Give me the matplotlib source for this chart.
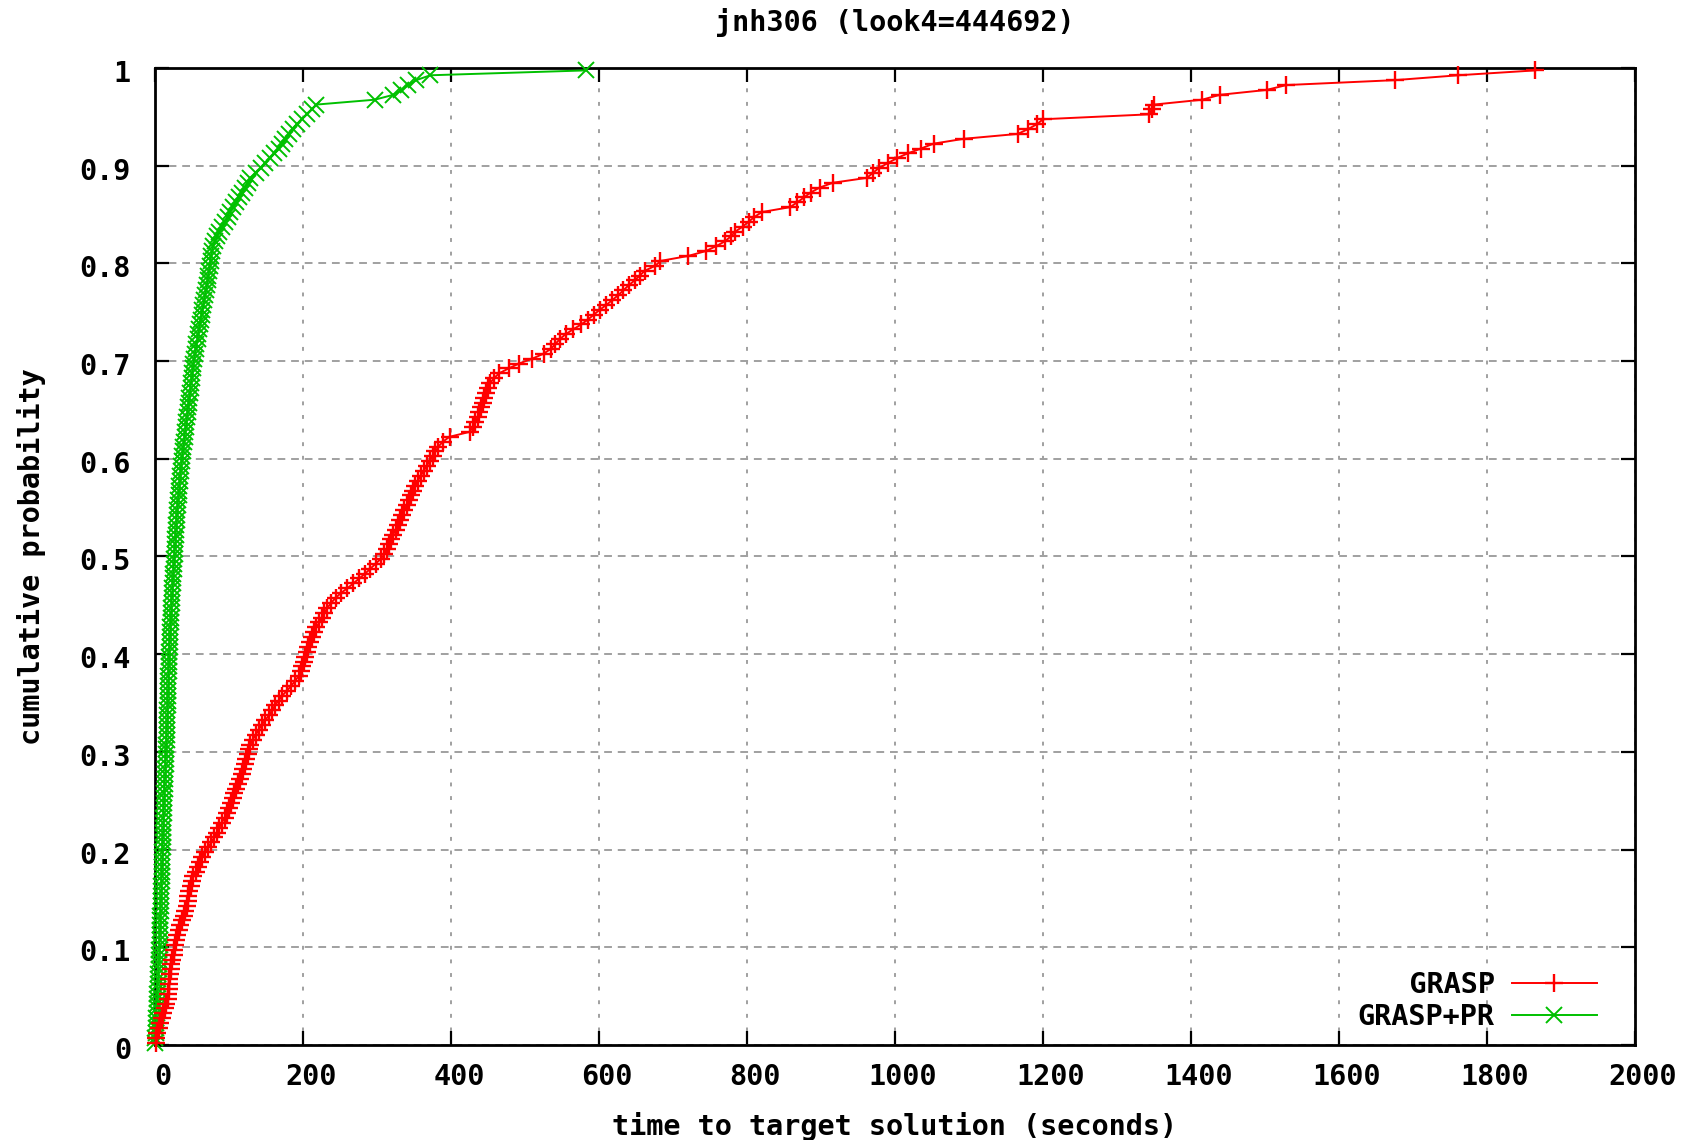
import matplotlib
matplotlib.use("Agg")
import matplotlib.pyplot as plt
from matplotlib.transforms import ScaledTranslation
import numpy as np

# ---------------- data (sorted times to target, seconds) ----------------
grasp_times = [
    1, 2, 3, 5, 7, 9, 11, 13, 15, 17,
    18, 18.5, 19, 19.5, 20, 21, 22, 23, 25, 26,
    27.5, 29, 30, 32, 34, 36, 39, 41, 43, 44,
    45, 46, 48, 50, 52, 55, 58, 61, 64, 67,
    72, 76, 80, 84, 87, 90, 94, 97, 100, 103,
    105, 107, 109, 112, 115, 117, 119, 121, 123, 125,
    127, 129, 132, 136, 140, 144, 149, 154, 158, 162,
    167, 172, 178, 184, 189, 194, 197, 199, 201, 203,
    205, 207, 209, 212, 215, 218, 222, 225, 229, 233,
    238, 244, 251, 260, 268, 276, 284, 291, 298, 305,
    310, 313, 316, 319, 322, 325, 328, 331, 334, 337,
    340, 343, 346, 349, 352, 355, 359, 363, 367, 371,
    375, 379, 383, 389, 398, 425, 430, 433, 436, 438,
    440, 443, 445, 447, 450, 453, 458, 465, 478, 492,
    510, 525, 535, 541, 547, 555, 565, 576, 585, 593,
    601, 610, 618, 626, 633, 640, 648, 655, 662, 676,
    683, 720, 744, 758, 770, 778, 784, 794, 802, 810,
    820, 858, 868, 877, 886, 898, 916, 962, 970, 978,
    990, 1002, 1017, 1035, 1052, 1093, 1166, 1180, 1192, 1200,
    1343, 1347, 1350, 1415, 1439, 1502, 1529, 1675, 1761, 1865,
]

grasp_pr_times = [
    0.3, 0.6, 0.9, 1.2, 1.5, 1.8, 2.1, 2.4, 2.7, 3.0,
    3.3, 3.6, 3.9, 4.2, 4.5, 4.8, 5.1, 5.4, 5.7, 6.0,
    6.2, 6.4, 6.6, 6.8, 7.0, 7.2, 7.4, 7.6, 7.8, 8.0,
    8.2, 8.4, 8.6, 8.8, 9.0, 9.2, 9.4, 9.6, 9.8, 10.0,
    10.2, 10.4, 10.6, 10.8, 11.0, 11.2, 11.4, 11.6, 11.8, 12.0,
    12.3, 12.6, 12.9, 13.2, 13.5, 13.8, 14.1, 14.4, 14.7, 15.0,
    15.2, 15.4, 15.6, 15.8, 16.0, 16.2, 16.4, 16.6, 16.8, 17.0,
    17.2, 17.4, 17.6, 17.8, 18.0, 18.2, 18.4, 18.6, 18.8, 19.0,
    19.3, 19.6, 19.9, 20.2, 20.5, 20.8, 21.1, 21.4, 21.7, 22.0,
    22.4, 22.8, 23.2, 23.6, 24.0, 24.4, 24.8, 25.2, 25.6, 26.0,
    26.4, 26.8, 27.2, 27.6, 28.0, 28.4, 28.8, 29.2, 29.6, 30.0,
    30.6, 31.2, 31.8, 32.4, 33.0, 33.6, 34.2, 34.8, 35.4, 36.0,
    36.8, 37.6, 38.4, 39.2, 40.0, 40.8, 41.6, 42.4, 43.2, 44.0,
    44.8, 45.6, 46.4, 47.2, 48.0, 48.8, 49.6, 50.4, 51.2, 52.0,
    53, 54, 55, 56, 57.5, 58.5, 59.5, 60.5, 61.5, 63,
    64, 65.5, 66.5, 67.5, 69, 70, 71, 72, 73, 74,
    75, 76, 77, 78.5, 81, 84, 87, 90, 94, 98,
    101, 105, 109, 113, 117, 121, 125, 129, 136, 143,
    149, 155, 161, 167, 172, 176, 181, 186, 192, 198,
    205, 212, 218, 297, 322, 333, 342, 353, 372, 583,
]

series_labels = ["GRASP", "GRASP+PR"]
x_ticks = [0, 200, 400, 600, 800, 1000, 1200, 1400, 1600, 1800, 2000]
x_tick_labels = ["0", "200", "400", "600", "800", "1000", "1200", "1400", "1600", "1800", "2000"]
y_ticks = [0, 0.1, 0.2, 0.3, 0.4, 0.5, 0.6, 0.7, 0.8, 0.9, 1.0]
y_tick_labels = ["0", "0.1", "0.2", "0.3", "0.4", "0.5", "0.6", "0.7", "0.8", "0.9", "1"]
title_text = "jnh306 (look4=444692)"
x_label = "time to target solution (seconds)"
y_label = "cumulative probability"


def empirical_cdf(times):
    t = np.sort(np.asarray(times, dtype=float))
    n = len(t)
    p = (np.arange(1, n + 1) - 0.5) / n
    return t, p


# ---------------- styling ----------------
FONT = ["DejaVu Sans Mono"]
FS = 20.5
plt.rcParams["font.family"] = FONT
plt.rcParams["font.weight"] = "bold"

fig = plt.figure(figsize=(16.94, 11.40), dpi=100)
ax = fig.add_axes([0.0915, 0.0833, 0.8737, 0.8571])

RED = "#ff0000"
GREEN = "#00c000"

xg, yg = empirical_cdf(grasp_pr_times)
xr, yr = empirical_cdf(grasp_times)

(l_green,) = ax.plot(xg, yg, color=GREEN, lw=1.4, marker="x", ms=11, mew=1.4,
                     clip_on=False, zorder=3, label=series_labels[1])
(l_red,) = ax.plot(xr, yr, color=RED, lw=1.4, marker="+", ms=13, mew=1.7,
                   clip_on=False, zorder=4, label=series_labels[0])

ax.set_xlim(0, 2000)
ax.set_ylim(0, 1)
ax.set_xticks(x_ticks)
ax.set_xticklabels(x_tick_labels)
ax.set_yticks(y_ticks)
ax.set_yticklabels(y_tick_labels)

ax.tick_params(direction="in", length=10, width=1.6, top=True, right=True,
               labelsize=FS, pad=13, colors="black")
for lab in ax.get_xticklabels():
    lab.set_fontweight("bold")
    lab.set_transform(lab.get_transform() + ScaledTranslation(8 / 100, 0, fig.dpi_scale_trans))
for lab in ax.get_yticklabels():
    lab.set_fontweight("bold")
    lab.set_transform(lab.get_transform() + ScaledTranslation(-6 / 100, -3 / 100, fig.dpi_scale_trans))

for sp in ax.spines.values():
    sp.set_linewidth(2.0)
    sp.set_color("black")

# grid: dashed grey
ax.set_axisbelow(True)
ax.yaxis.grid(True, color="#a0a0a0", lw=1.4, linestyle=(0, (4, 3)))
ax.xaxis.grid(True, color="#a0a0a0", lw=1.4, linestyle=(0, (2, 5)))

ax.set_xlabel(x_label, fontsize=FS, fontweight="bold")
ax.set_ylabel(y_label, fontsize=FS, fontweight="bold")
ax.xaxis.set_label_coords(0.5, -81 / 977)
ax.xaxis.label.set_va("center")
ax.yaxis.set_label_coords((30 - 154) / 1481, 0.5)
ax.yaxis.label.set_va("center")

ax.text(0.5, 1 + 45 / 977, title_text, transform=ax.transAxes, ha="center",
        va="center", fontsize=FS, fontweight="bold")

# legend: text on the left (right-aligned via monospace padding), sample on the right
w = max(len(s) for s in series_labels)
leg = ax.legend([l_red, l_green], [s.rjust(w) for s in series_labels],
                loc="lower right", bbox_to_anchor=(0.984, 0.0), frameon=False,
                markerfirst=False, handlelength=3.0, handletextpad=0.6,
                labelspacing=0.12, borderpad=0.0, numpoints=1,
                prop={"family": FONT, "weight": "bold", "size": FS})

fig.savefig("out.png", dpi=100, facecolor="white")
